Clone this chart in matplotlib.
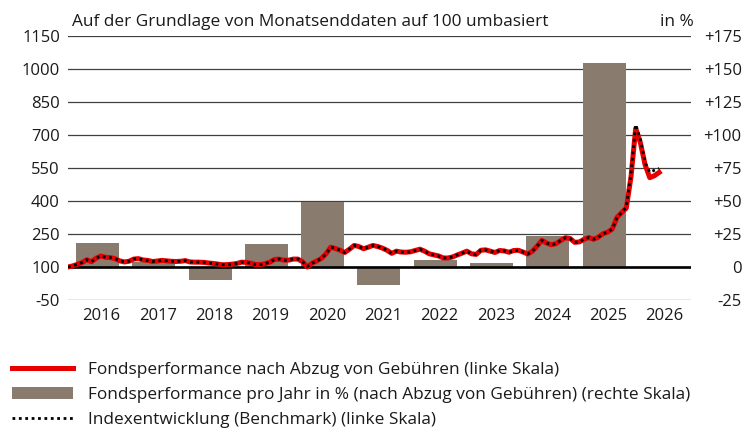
import matplotlib
matplotlib.use("Agg")
import matplotlib.pyplot as plt
import numpy as np
import pandas as pd

# ---------------- data ----------------
years = [2016, 2017, 2018, 2019, 2020, 2021, 2022, 2023, 2024, 2025]
annual_perf = [18.5, 3.5, -9.8, 17.2, 49.2, -13.6, 5.1, 2.8, 23.3, 154.3]

year_labels = ["2016", "2017", "2018", "2019", "2020", "2021", "2022", "2023",
               "2024", "2025", "2026"]

left_ticks = [1150, 1000, 850, 700, 550, 400, 250, 100, -50]
left_tick_labels = ["1150", "1000", "850", "700", "550", "400", "250", "100", "-50"]
right_ticks = [175, 150, 125, 100, 75, 50, 25, 0, -25]
right_tick_labels = ["+175", "+150", "+125", "+100", "+75", "+50", "+25", "0", "-25"]

# monthly index values, starting Dec 2015
fund = [100, 105, 112, 120, 133, 124, 140, 150, 144, 143, 138, 128,
        123, 126, 136, 138, 132, 130, 125, 127, 130, 128, 126, 125,
        126, 129, 123, 122, 122, 121, 118, 116, 113, 110, 111, 113,
        116, 122, 121, 117, 111, 111, 115, 122, 134, 136, 131, 131,
        136, 136, 124, 100, 117, 127, 139, 160, 190, 184, 176, 166,
        181, 198, 193, 183, 190, 198, 193, 186, 176, 162, 172, 168,
        167, 169, 175, 181, 172, 160, 155, 150, 141, 141, 146, 155,
        163, 172, 160, 157, 176, 178, 172, 166, 175, 173, 167, 175,
        176, 168, 159, 172, 195, 221, 209, 201, 206, 220, 233, 230,
        212, 214, 226, 234, 226, 235, 251, 258, 272, 325, 347, 368,
        510, 730, 665, 565, 506, 515, 530]

bench = [100, 105, 112, 120, 133, 124, 140, 150, 144, 143, 138, 128,
         123, 126, 136, 138, 132, 130, 125, 127, 130, 128, 126, 125,
         126, 129, 123, 122, 122, 121, 118, 116, 113, 110, 111, 113,
         116, 122, 121, 117, 111, 111, 115, 122, 134, 136, 131, 131,
         136, 136, 124, 102, 117, 127, 139, 160, 190, 184, 176, 166,
         181, 198, 193, 183, 190, 198, 193, 186, 176, 162, 172, 168,
         167, 169, 175, 181, 172, 160, 155, 150, 141, 141, 146, 155,
         163, 172, 160, 157, 176, 178, 172, 166, 175, 173, 167, 175,
         176, 168, 159, 172, 195, 221, 209, 201, 206, 220, 233, 230,
         212, 214, 226, 234, 226, 235, 251, 258, 272, 325, 347, 372,
         525, 748, 680, 575, 530, 540, 548]

title_text = "Auf der Grundlage von Monatsenddaten auf 100 umbasiert"
unit_text = "in %"
legend_labels = ["Fondsperformance nach Abzug von Gebühren (linke Skala)",
                 "Fondsperformance pro Jahr in % (nach Abzug von Gebühren) (rechte Skala)",
                 "Indexentwicklung (Benchmark) (linke Skala)"]

# ---------------- style ----------------
FONT = ["Open Sans", "DejaVu Sans"]
plt.rcParams["font.family"] = FONT
FS = 12
FS_T = 12.4
TXT = "#1a1a1a"
BAR_C = "#897b6e"
RED = "#e60000"

W, H = 755, 430
fig = plt.figure(figsize=(W / 100, H / 100), dpi=100)
L, R, T, B = 68, 691, 36, 300
ax = fig.add_axes([L / W, 1 - B / H, (R - L) / W, (B - T) / H])
ax2 = ax.twinx()

dates = pd.date_range("2015-12-01", periods=len(fund), freq="MS")
xm = dates.year + (dates.month - 1) / 12.0

x0 = 2015 + 11 / 12
ax.set_xlim(x0, x0 + (R - L) / 56.3)
ax.set_ylim(-50, 1150)
ax2.set_ylim(-25, 175)

# bars on right axis
bar_x = np.array(years) + 0.44
ax2.set_axisbelow(True)
bars = ax2.bar(bar_x, annual_perf, width=0.765, color=BAR_C, zorder=2)
for t in right_ticks:
    ax2.axhline(t, color="#404040", lw=0.9, zorder=1)

# lines on left axis (on top)
ax.set_zorder(ax2.get_zorder() + 1)
ax.patch.set_visible(False)
ax.axhline(100, color="black", lw=1.9, zorder=2)
l1, = ax.plot(xm, fund, color=RED, lw=3.6, solid_joinstyle="round", zorder=3)
l2, = ax.plot(xm, bench, color="black", lw=2.0, linestyle=(0, (1, 1.3)), zorder=4)

for a in (ax, ax2):
    for s in a.spines.values():
        s.set_visible(False)

ax.set_yticks(left_ticks)
ax.set_yticklabels(left_tick_labels, fontsize=FS, color=TXT)
ax.tick_params(axis="y", length=0, pad=5.8)
ax2.set_yticks(right_ticks)
ax2.set_yticklabels(right_tick_labels, fontsize=FS, color=TXT, ha="right")
ax2.tick_params(axis="y", length=0, pad=36.5)

ax.set_xticks([y + 0.515 for y in range(2016, 2027)])
ax.set_xticklabels(year_labels, fontsize=FS, color=TXT)
ax.tick_params(axis="x", length=0, pad=5.5)

fig.text(72 / W, 1 - 26 / H, title_text, fontsize=FS_T, color=TXT, va="baseline", ha="left")
fig.text(694 / W, 1 - 26 / H, unit_text, fontsize=FS_T, color=TXT, va="baseline", ha="right")

leg = fig.legend([l1, bars, l2], legend_labels, loc="center left",
                 bbox_to_anchor=(12 / W, 1 - 395 / H), frameon=False,
                 fontsize=FS_T, handlelength=3.55, handletextpad=0.87,
                 labelspacing=0.5, borderpad=0, borderaxespad=0)
for t in leg.get_texts():
    t.set_color(TXT)

fig.savefig("out.png", dpi=100)
